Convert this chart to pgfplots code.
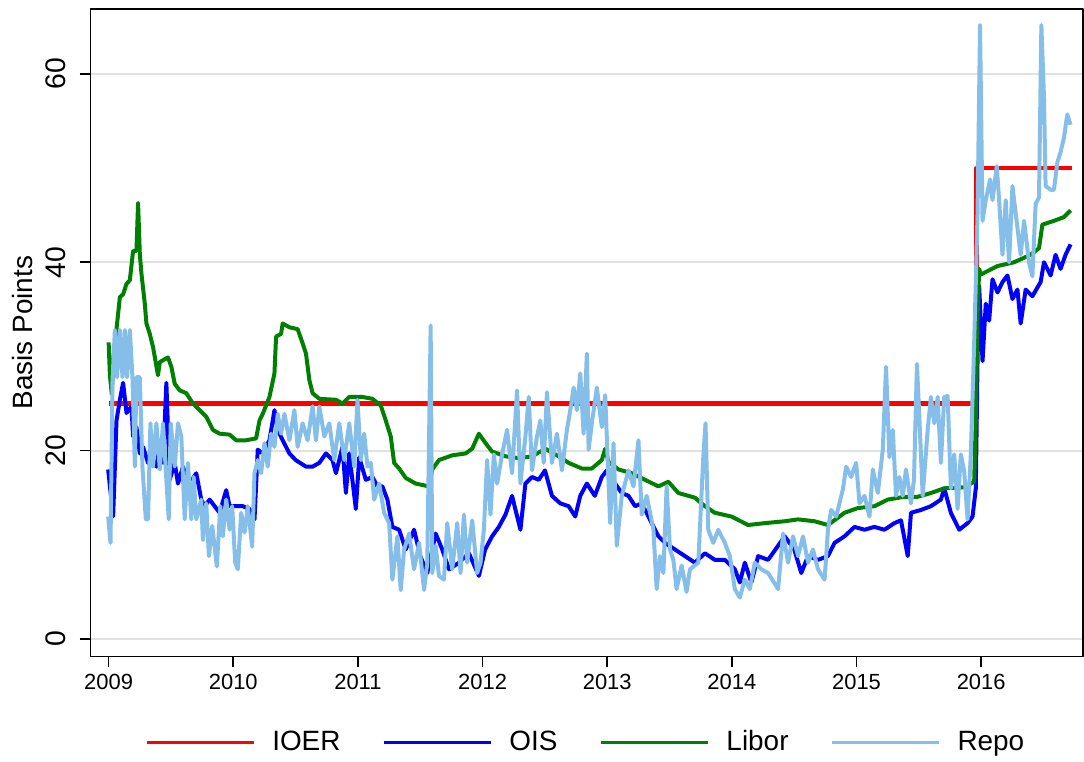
\documentclass[border=0pt]{standalone}
\usepackage{fontspec}
\setmainfont{Liberation Sans}
\usepackage{pgfplots}
\usepackage{pgfplotstable}
\pgfplotsset{compat=1.18}

\definecolor{ioer}{RGB}{255,0,0}
\definecolor{ois}{RGB}{0,0,255}
\definecolor{libor}{RGB}{0,128,0}
\definecolor{repo}{RGB}{132,190,233}
\definecolor{gridc}{RGB}{225,225,225}

% interest on excess reserves (step)
\pgfplotstableread{
x y
2009.000 25
2015.962 25
2015.962 50
2016.730 50
}\ioer

% overnight indexed swap
\pgfplotstableread{
x y
2008.996 18.0
2009.036 13.0
2009.063 23.2
2009.090 25.4
2009.116 27.2
2009.143 24.0
2009.183 24.7
2009.196 21.5
2009.223 22.5
2009.250 19.7
2009.276 20.4
2009.316 18.7
2009.356 19.0
2009.383 18.3
2009.410 20.4
2009.436 18.7
2009.463 27.2
2009.490 16.9
2009.530 18.7
2009.556 16.5
2009.596 18.3
2009.623 17.2
2009.650 16.5
2009.703 17.6
2009.743 14.8
2009.770 14.1
2009.810 14.8
2009.850 14.1
2009.890 13.4
2009.943 15.8
2009.970 14.1
2010.023 14.1
2010.076 14.1
2010.130 13.8
2010.170 12.7
2010.196 20.1
2010.236 19.7
2010.290 21.1
2010.330 24.3
2010.356 22.2
2010.396 21.1
2010.450 19.7
2010.500 19.0
2010.583 18.3
2010.636 18.3
2010.690 18.7
2010.743 19.7
2010.796 19.0
2010.823 17.6
2010.876 20.4
2010.903 15.5
2010.930 19.7
2010.983 13.8
2011.010 19.3
2011.063 16.9
2011.116 17.2
2011.156 16.2
2011.196 16.2
2011.236 14.8
2011.276 11.9
2011.330 11.6
2011.383 9.5
2011.450 11.6
2011.500 8.8
2011.556 7.0
2011.623 11.2
2011.676 9.5
2011.730 7.4
2011.810 8.1
2011.890 9.1
2011.970 6.7
2012.020 9.5
2012.076 10.9
2012.130 11.9
2012.183 13.2
2012.236 15.2
2012.303 11.6
2012.343 16.5
2012.396 17.2
2012.450 16.9
2012.500 17.9
2012.556 15.2
2012.623 14.4
2012.690 14.1
2012.743 13.0
2012.783 15.2
2012.836 16.5
2012.900 15.2
2012.956 17.2
2012.996 17.9
2013.063 16.5
2013.116 15.5
2013.170 15.2
2013.223 14.1
2013.276 14.4
2013.330 13.0
2013.410 10.9
2013.463 10.2
2013.543 9.5
2013.623 8.8
2013.703 8.1
2013.783 9.1
2013.863 8.4
2013.943 8.4
2014.023 7.4
2014.063 6.0
2014.103 8.1
2014.156 6.0
2014.210 8.8
2014.290 8.4
2014.370 9.9
2014.423 10.9
2014.500 9.5
2014.556 7.0
2014.610 8.8
2014.690 8.4
2014.770 8.8
2014.823 10.2
2014.903 10.9
2014.983 11.9
2015.063 11.6
2015.143 11.9
2015.223 11.6
2015.303 12.3
2015.356 12.6
2015.410 8.8
2015.436 13.4
2015.516 13.7
2015.596 14.1
2015.676 14.8
2015.703 16.0
2015.756 13.4
2015.823 11.6
2015.890 12.3
2015.930 13.0
2015.956 16.0
2015.970 29.5
2015.983 37.5
2016.010 29.5
2016.036 35.6
2016.063 33.8
2016.090 38.2
2016.130 36.8
2016.170 37.9
2016.210 38.6
2016.250 36.1
2016.290 37.1
2016.316 33.5
2016.356 37.1
2016.410 36.4
2016.476 37.9
2016.503 40.0
2016.556 38.6
2016.596 40.8
2016.636 39.3
2016.676 40.8
2016.716 41.9
}\ois

% three-month libor
\pgfplotstableread{
x y
2009.000 31.5
2009.010 28.0
2009.025 26.0
2009.040 30.0
2009.090 36.3
2009.116 36.6
2009.143 37.7
2009.170 38.1
2009.196 41.2
2009.223 41.2
2009.236 46.3
2009.250 40.9
2009.263 38.8
2009.290 35.6
2009.303 33.5
2009.330 32.4
2009.356 31.0
2009.396 28.0
2009.410 29.4
2009.476 29.9
2009.503 28.9
2009.530 27.1
2009.570 26.4
2009.623 26.1
2009.676 25.0
2009.730 24.3
2009.783 23.6
2009.836 22.2
2009.890 21.8
2009.970 21.7
2010.023 21.1
2010.103 21.1
2010.183 21.3
2010.210 23.2
2010.236 23.9
2010.290 25.7
2010.330 28.2
2010.343 32.1
2010.383 32.4
2010.396 33.5
2010.450 33.1
2010.516 32.9
2010.556 31.4
2010.583 30.3
2010.610 27.5
2010.636 26.1
2010.690 25.5
2010.823 25.4
2010.876 25.0
2010.930 25.7
2011.036 25.7
2011.116 25.5
2011.183 24.8
2011.223 23.2
2011.263 21.5
2011.290 18.7
2011.330 18.1
2011.383 17.1
2011.463 16.5
2011.570 16.2
2011.596 18.0
2011.650 19.0
2011.756 19.5
2011.863 19.7
2011.916 20.2
2011.970 21.8
2012.023 20.8
2012.076 19.9
2012.183 19.4
2012.290 19.2
2012.396 19.4
2012.503 20.2
2012.610 19.4
2012.690 18.7
2012.796 18.1
2012.876 18.1
2012.956 19.0
2012.983 20.2
2013.010 18.8
2013.090 18.0
2013.196 17.6
2013.303 16.9
2013.410 16.2
2013.490 16.7
2013.570 15.5
2013.703 15.0
2013.783 14.1
2013.863 13.4
2013.996 13.0
2014.130 12.1
2014.263 12.3
2014.423 12.5
2014.530 12.7
2014.663 12.5
2014.770 12.1
2014.903 13.4
2015.010 13.9
2015.143 14.1
2015.250 14.8
2015.383 15.1
2015.490 15.1
2015.596 15.5
2015.703 16.0
2015.863 16.1
2015.943 16.7
2015.956 23.3
2015.970 34.2
2015.983 39.3
2015.996 38.7
2016.130 39.6
2016.263 40.0
2016.396 40.8
2016.463 41.5
2016.490 44.0
2016.583 44.4
2016.663 44.8
2016.716 45.5
}\libor

% general collateral repo
\pgfplotstableread{
x y
2008.996 13.0
2009.015 10.2
2009.031 27.5
2009.050 32.8
2009.068 27.8
2009.090 32.8
2009.111 27.8
2009.130 32.8
2009.148 27.8
2009.170 32.8
2009.191 27.8
2009.210 18.3
2009.223 27.8
2009.250 27.8
2009.271 18.3
2009.298 12.7
2009.316 12.7
2009.335 22.9
2009.356 18.3
2009.383 22.9
2009.410 18.0
2009.436 22.9
2009.458 18.0
2009.482 12.7
2009.498 22.9
2009.530 18.3
2009.556 22.9
2009.583 21.5
2009.610 12.7
2009.636 18.7
2009.663 12.7
2009.682 17.2
2009.703 12.7
2009.743 14.8
2009.756 10.5
2009.783 14.4
2009.804 8.8
2009.831 12.0
2009.868 7.7
2009.895 14.1
2009.916 10.9
2009.943 14.8
2009.970 11.6
2009.991 14.1
2010.015 8.1
2010.036 7.4
2010.063 13.4
2010.090 11.3
2010.116 14.1
2010.151 9.8
2010.170 17.6
2010.196 19.0
2010.223 17.6
2010.250 20.8
2010.276 18.3
2010.303 21.8
2010.330 20.4
2010.356 23.9
2010.383 21.8
2010.410 23.9
2010.450 21.1
2010.490 24.3
2010.516 20.4
2010.556 22.9
2010.596 21.1
2010.636 24.7
2010.663 21.1
2010.690 24.7
2010.730 21.5
2010.770 22.9
2010.810 19.0
2010.850 22.9
2010.890 19.0
2010.930 22.9
2010.970 18.3
2010.996 25.4
2011.023 19.0
2011.050 21.8
2011.076 18.3
2011.103 18.7
2011.130 14.8
2011.170 16.5
2011.210 13.4
2011.250 12.3
2011.276 6.3
2011.316 10.9
2011.343 5.2
2011.370 9.5
2011.410 11.2
2011.450 7.4
2011.490 10.2
2011.530 5.2
2011.556 8.1
2011.583 33.3
2011.596 7.0
2011.623 9.9
2011.650 6.7
2011.690 6.3
2011.716 12.3
2011.756 7.4
2011.796 12.3
2011.823 7.0
2011.850 13.2
2011.876 8.1
2011.916 12.6
2011.956 7.0
2011.983 8.1
2012.010 11.6
2012.036 19.0
2012.063 13.2
2012.090 19.6
2012.116 16.5
2012.156 19.6
2012.196 22.2
2012.236 17.6
2012.276 26.4
2012.303 16.5
2012.343 21.5
2012.370 25.7
2012.396 17.9
2012.436 21.5
2012.463 23.2
2012.490 18.7
2012.516 26.2
2012.556 18.7
2012.596 21.8
2012.636 17.9
2012.676 22.2
2012.703 24.3
2012.730 26.7
2012.756 24.3
2012.783 28.2
2012.810 21.8
2012.836 30.3
2012.850 20.1
2012.876 22.9
2012.916 26.7
2012.956 22.5
2012.983 25.9
2013.023 12.3
2013.050 20.8
2013.076 9.9
2013.116 15.2
2013.170 17.9
2013.210 16.2
2013.250 21.1
2013.276 13.2
2013.316 15.2
2013.370 11.6
2013.396 5.3
2013.423 8.8
2013.450 7.0
2013.476 16.2
2013.503 9.5
2013.530 8.4
2013.556 5.3
2013.596 7.8
2013.636 5.0
2013.663 7.4
2013.730 8.1
2013.770 19.3
2013.788 22.9
2013.810 11.6
2013.850 10.2
2013.890 11.6
2013.943 10.2
2013.983 8.8
2014.023 5.3
2014.063 4.4
2014.103 6.3
2014.143 5.3
2014.183 8.1
2014.236 7.4
2014.290 7.0
2014.370 5.3
2014.410 11.2
2014.450 8.1
2014.490 10.9
2014.530 8.8
2014.570 10.9
2014.610 8.1
2014.650 9.5
2014.690 7.4
2014.743 6.3
2014.770 11.6
2014.796 13.7
2014.836 13.0
2014.890 15.9
2014.916 18.3
2014.956 17.2
2014.996 18.7
2015.023 14.4
2015.063 15.2
2015.103 13.0
2015.130 18.0
2015.170 15.5
2015.210 20.1
2015.236 28.9
2015.263 19.3
2015.290 22.2
2015.316 15.2
2015.343 17.2
2015.370 15.2
2015.396 18.0
2015.436 14.4
2015.460 16.9
2015.484 29.2
2015.503 23.6
2015.530 15.2
2015.570 22.2
2015.596 25.7
2015.623 22.9
2015.650 25.7
2015.676 18.7
2015.703 25.7
2015.730 25.8
2015.756 16.0
2015.783 19.6
2015.810 13.8
2015.836 19.6
2015.863 17.8
2015.890 12.7
2015.916 19.6
2015.937 28.7
2015.956 37.8
2015.970 45.2
2015.990 65.2
2016.010 44.4
2016.036 46.6
2016.071 48.8
2016.090 46.6
2016.124 50.2
2016.143 46.6
2016.170 40.8
2016.196 46.6
2016.223 40.0
2016.250 48.1
2016.276 45.2
2016.316 40.8
2016.343 44.4
2016.383 40.0
2016.410 38.5
2016.436 46.2
2016.463 46.9
2016.482 65.2
2016.503 57.5
2016.516 48.1
2016.556 47.7
2016.583 47.7
2016.610 50.6
2016.636 51.7
2016.663 53.2
2016.690 55.7
2016.716 54.6
}\repo

\begin{document}
\begin{tikzpicture}
\begin{axis}[
  name=ax,
  scale only axis,
  width=497.65pt, height=324.65pt,
  xmin=2008.854, xmax=2016.816,
  ymin=-1.86, ymax=66.9,
  xtick={2009,...,2016},
  ytick={0,20,40,60},
  tick pos=left, tick align=outside,
  major tick length=5.5pt,
  tick style={black, line width=0.8pt},
  axis line style={black, line width=0.9pt},
  ymajorgrids, grid style={gridc, line width=1pt},
  /pgf/number format/1000 sep={},
  /pgf/number format/assume math mode=true,
  xticklabel style={font=\fontsize{11}{13}\selectfont},
  yticklabel style={font=\fontsize{14.2}{16}\selectfont, rotate=90, anchor=south,
    inner xsep=0pt, inner ysep=6.5pt},
  ylabel={Basis Points},
  every axis y label/.style={at={(axis description cs:-0.0576,0.5)},
    rotate=90, anchor=south, inner sep=0pt, font=\fontsize{14}{16}\selectfont},
  legend columns=4,
  legend style={at={(0.5,-0.1324)}, anchor=center, draw=none, fill=none,
    font=\fontsize{14}{16}\selectfont,
    /tikz/every odd column/.append style={column sep=6.5pt},
    /tikz/every even column/.append style={column sep=19pt}},
  legend image code/.code={\draw[#1, line width=1.7pt] (0pt,0pt) -- (53.5pt,0pt);},
  line join=round,
]
\addplot[ioer, line width=2.2pt] table {\ioer};
\addlegendentry{IOER}
\addplot[ois, line width=2pt] table {\ois};
\addlegendentry{OIS}
\addplot[libor, line width=2pt] table {\libor};
\addlegendentry{Libor}
\addplot[repo, line width=2pt] table {\repo};
\addlegendentry{Repo}
\end{axis}
\path[use as bounding box] ([xshift=-45.35pt, yshift=-50.35pt]ax.south west)
  rectangle ([xshift=-1pt, yshift=4.5pt]ax.north east);
\end{tikzpicture}
\end{document}
